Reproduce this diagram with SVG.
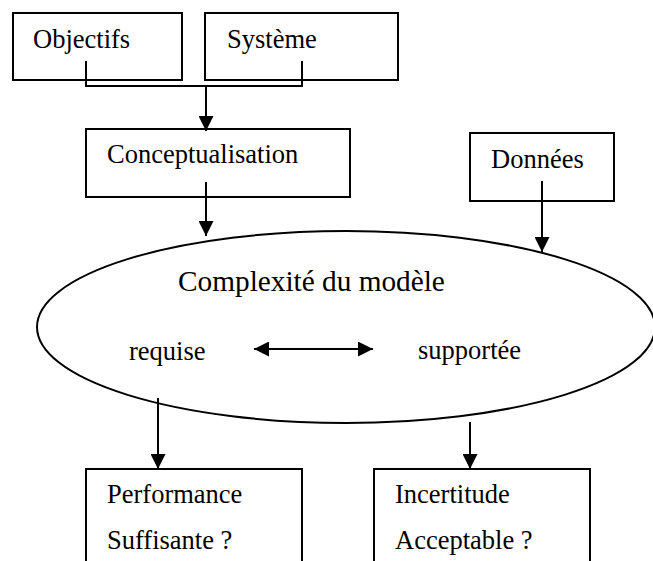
<svg xmlns="http://www.w3.org/2000/svg" width="653" height="561" viewBox="0 0 653 561">
<style>
.box{fill:#fff;stroke:#000;stroke-width:2}
text{font-family:'Liberation Serif','Times New Roman',Tinos,'DejaVu Serif',serif;font-size:26.5px;fill:#000}
text.big{font-size:29.3px}
.ln{fill:none;stroke:#000;stroke-width:2}
</style>
<defs>
<marker id="ah" viewBox="0 0 15 15" refX="15" refY="7.5" markerWidth="15" markerHeight="15" markerUnits="userSpaceOnUse" orient="auto-start-reverse">
<path d="M0,0 L15,7.5 L0,15 Z" fill="#000"/>
</marker>
</defs>
<rect width="653" height="561" fill="#fff"/>
<g font-family="'Liberation Serif', 'Times New Roman', serif">
<g id="objectifs"><rect class="box" x="13" y="13" width="169" height="67"/><text x="33" y="48">Objectifs</text></g>
<g id="systeme"><rect class="box" x="205" y="13" width="193" height="67"/><text x="227" y="48">Système</text></g>
<g id="conceptualisation"><rect class="box" x="86" y="129" width="264" height="68"/><text x="107" y="163">Conceptualisation</text></g>
<g id="donnees"><rect class="box" x="470" y="133" width="144" height="68"/><text x="491" y="168">Données</text></g>
<g id="complexite"><ellipse class="ln" cx="346" cy="327" rx="309" ry="96"/><text class="big" x="178" y="291">Complexité du modèle</text><text x="129" y="360">requise</text><text x="418" y="359">supportée</text></g>
<g id="performance"><rect class="box" x="86" y="469" width="216" height="100"/><text x="107" y="503">Performance</text><text x="107" y="549">Suffisante ?</text></g>
<g id="incertitude"><rect class="box" x="374" y="469" width="216" height="100"/><text x="395" y="503">Incertitude</text><text x="395" y="549">Acceptable ?</text></g>
</g>
<g id="connectors">
<polyline class="ln" points="86,61 86,86 302,86 302,61"/>
<line class="ln" x1="206" y1="86" x2="206" y2="131" marker-end="url(#ah)"/>
<line class="ln" x1="206" y1="182" x2="206" y2="236" marker-end="url(#ah)"/>
<line class="ln" x1="542" y1="181" x2="542" y2="252" marker-end="url(#ah)"/>
<line class="ln" x1="254" y1="349" x2="373" y2="349" marker-start="url(#ah)" marker-end="url(#ah)"/>
<line class="ln" x1="158" y1="398" x2="158" y2="469" marker-end="url(#ah)"/>
<line class="ln" x1="470" y1="422" x2="470" y2="469" marker-end="url(#ah)"/>
</g>
</svg>
